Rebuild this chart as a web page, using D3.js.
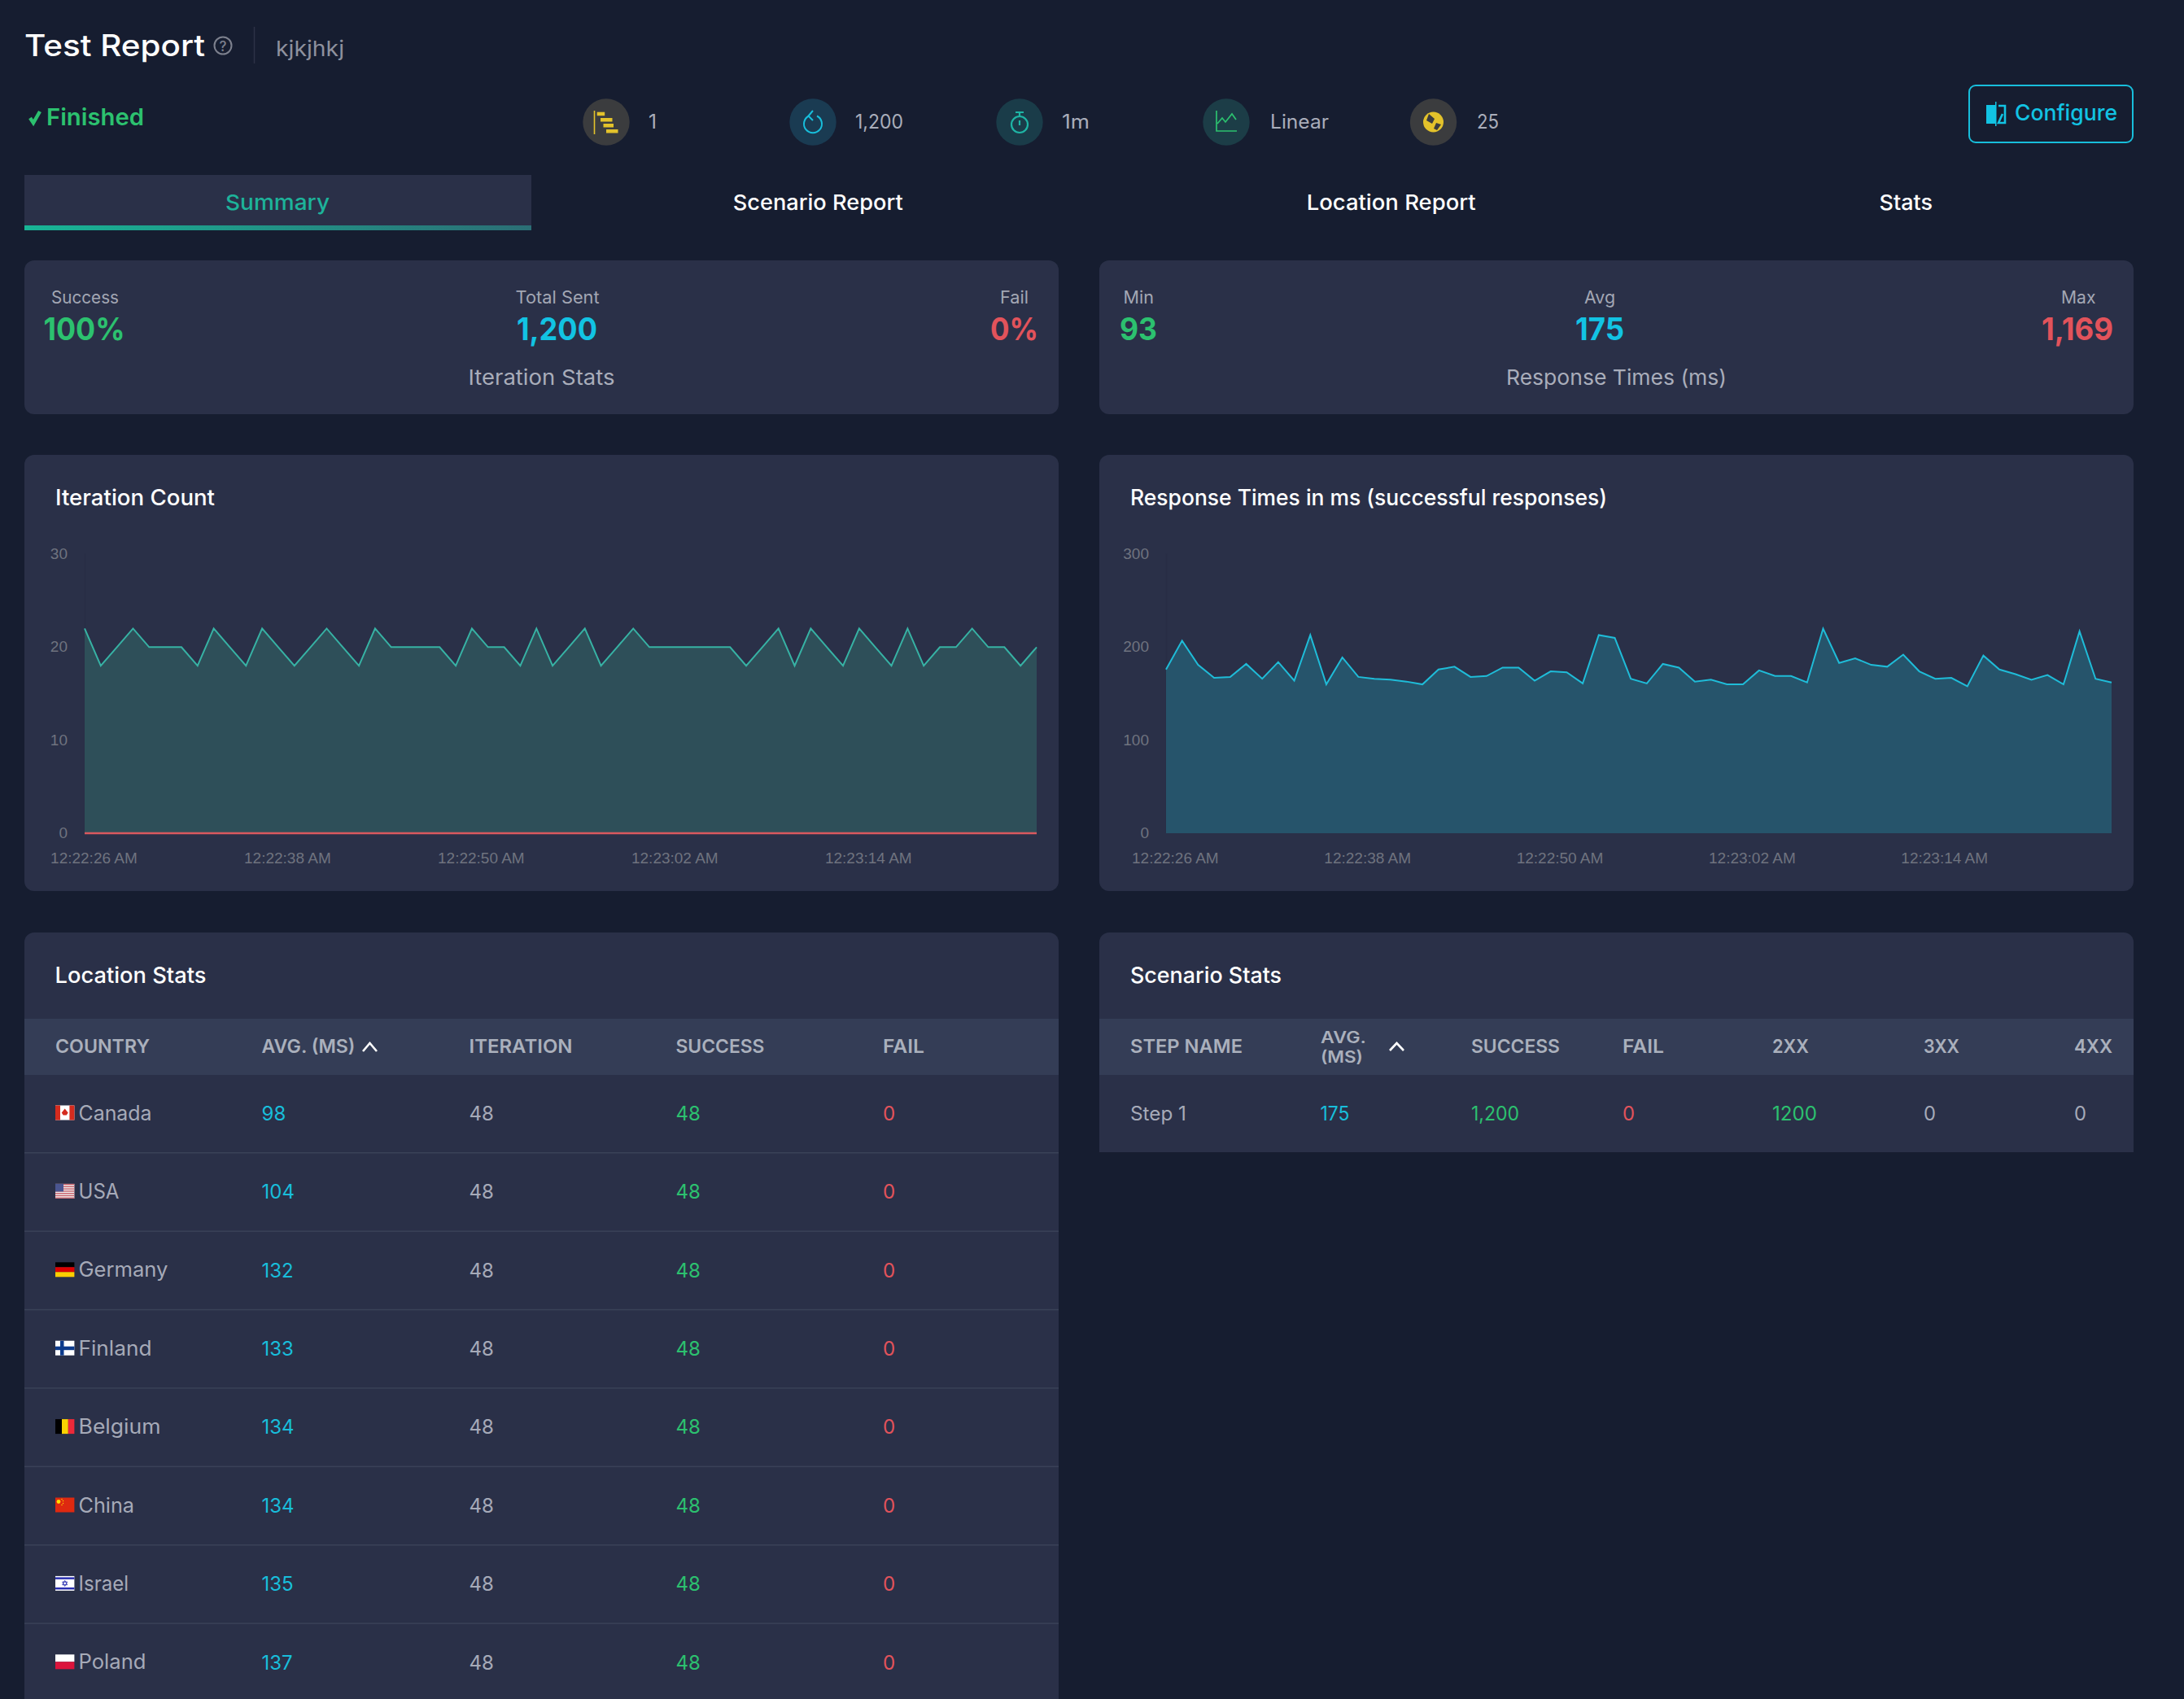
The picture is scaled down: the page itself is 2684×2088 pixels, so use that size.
<!DOCTYPE html>
<html><head><meta charset="utf-8">
<script src="https://cdn.jsdelivr.net/npm/d3@7/dist/d3.min.js"></script>
<style>html,body{margin:0;padding:0;background:#161d30;overflow:hidden}svg{display:block}</style>
</head><body><svg id="page" width="2684" height="2088"></svg>
<script>
const iterationCount=[22,18,20,22,20,20,20,18,22,20,18,22,20,18,20,22,20,18,22,20,20,20,20,18,22,20,20,18,22,18,20,22,18,20,22,20,20,20,20,20,20,18,20,22,18,22,20,18,22,20,18,22,18,20,20,22,20,20,18,20];
const failCount=[0,0,0,0,0,0,0,0,0,0,0,0,0,0,0,0,0,0,0,0,0,0,0,0,0,0,0,0,0,0,0,0,0,0,0,0,0,0,0,0,0,0,0,0,0,0,0,0,0,0,0,0,0,0,0,0,0,0,0,0];
const responseTimes=[176,207,181,167,168,182,166,184,164,213,160,189,168,166,165,163,160,176,179,168,169,178,178,164,174,173,161,213,210,166,161,182,178,163,165,160,160,175,169,169,162,220,183,188,181,179,192,174,166,167,158,191,176,171,165,170,160,217,166,162];
const xTickLabels=["12:22:26 AM","12:22:38 AM","12:22:50 AM","12:23:02 AM","12:23:14 AM"];
const xTickIndex=[0,12,24,36,48];
const countries=["Canada","USA","Germany","Finland","Belgium","China","Israel","Poland"];
const avgMs=[98,104,132,133,134,134,135,137];
const iterations=[48,48,48,48,48,48,48,48];
const successes=[48,48,48,48,48,48,48,48];
const fails=[0,0,0,0,0,0,0,0];
const locationHeaders=["COUNTRY","AVG. (MS)","ITERATION","SUCCESS","FAIL"];
const scenarioHeaders=["STEP NAME","SUCCESS","FAIL","2XX","3XX","4XX"];
const scenarioRow=["Step 1","175","1,200","0","1200","0","0"];
const tabs=["Summary","Scenario Report","Location Report","Stats"];
const infoValues=["1","1,200","1m","Linear","25"];

const C={panel:"#2a3048",head:"#343d56",rule:"#3a4258",white:"#ffffff",grey:"#a6aab8",cyan:"#12c3e3",cyan2:"#18bedb",green:"#2cc16f",red:"#e2535b",teal:"#1db39a",yellow:"#e3c22b"};
const FONT="Inter, 'Noto Sans', sans-serif";
const svg=d3.select("#page");
const defs=svg.append("defs");
const grad=defs.append("linearGradient").attr("id","tabline");
grad.append("stop").attr("offset","0").attr("stop-color","#18b596");
grad.append("stop").attr("offset","1").attr("stop-color","#2b6e75");

function t(x,y,s,o={}){
  const n=svg.append("text").attr("x",x).attr("y",y).text(s)
    .attr("font-family",o.font||FONT).attr("font-size",o.size||25)
    .attr("font-weight",o.weight||400).attr("fill",o.fill||C.grey);
  if(o.w) n.attr("textLength",o.w).attr("lengthAdjust","spacingAndGlyphs");
  return n;
}
function panel(x,y,w,h,r=12){svg.append("rect").attr("x",x).attr("y",y).attr("width",w).attr("height",h).attr("rx",r).attr("fill",C.panel);}
function box(x,y,w,h,f){svg.append("rect").attr("x",x).attr("y",y).attr("width",w).attr("height",h).attr("fill",f);}

/* Header */
t(30,69,"Test Report",{size:37,weight:500,fill:C.white,w:222});
svg.append("circle").attr("cx",274).attr("cy",56).attr("r",10.5).attr("fill","none").attr("stroke","#7d818e").attr("stroke-width",2);
t(269.5,62.5,"?",{size:17,weight:500,fill:"#7d818e"});
svg.append("line").attr("x1",312.5).attr("x2",312.5).attr("y1",33).attr("y2",78).attr("stroke","#2d3246").attr("stroke-width",1.5);
t(339,68.5,"kjkjhkj",{size:26,fill:"#8e919e",w:84});
svg.append("path").attr("d","M37 145 L41 151 L49 137").attr("fill","none").attr("stroke",C.green).attr("stroke-width",4.4);
t(57,154,"Finished",{size:29,weight:600,fill:C.green,w:120});

/* Info strip */
const infoX=[745,999,1253,1507,1761.5], infoTextX=[797,1051,1305,1561,1815], infoTextW=[10,59,34,72,27];
const infoBg=["#3b3c3e","#1a3b52","#1a3c49","#1c3d47","#3b3c3e"];
infoX.forEach((x,i)=>{
  svg.append("circle").attr("cx",x).attr("cy",150).attr("r",28.7).attr("fill",infoBg[i]);
  t(infoTextX[i],158,infoValues[i],{size:24,w:infoTextW[i],fill:"#a9adba"});
});
[[733.7,137.7,9.5,4.5],[738,145,14.5,4.5],[741.5,152,12.5,4.5],[745,159,14.5,4.5]].forEach(r=>box(r[0],r[1],r[2],r[3],C.yellow));
svg.append("line").attr("x1",730.5).attr("x2",730.5).attr("y1",136).attr("y2",165).attr("stroke",C.yellow).attr("stroke-width",1.6);
svg.append("path").attr("d","M1004 142.5 A11 11 0 1 1 994 142.5").attr("fill","none").attr("stroke",C.cyan2).attr("stroke-width",2);
svg.append("path").attr("d","M999 136 L993.5 142.5 L999 148").attr("fill","none").attr("stroke",C.cyan2).attr("stroke-width",2);
svg.append("circle").attr("cx",1253).attr("cy",153).attr("r",10).attr("fill","none").attr("stroke","#1fb5a5").attr("stroke-width",2.2);
svg.append("path").attr("d","M1248 138 H1258 M1253 138 V143 M1253 148 V154").attr("fill","none").attr("stroke","#1fb5a5").attr("stroke-width",2.2);
svg.append("path").attr("d","M1495 136 V161 H1520 M1496 152 L1502 145 L1506 150 L1514 140 L1519 147").attr("fill","none").attr("stroke",C.green).attr("stroke-width",1.7);
svg.append("circle").attr("cx",1761.5).attr("cy",150).attr("r",12.5).attr("fill",C.yellow);
svg.append("path").attr("d","M1756 140 L1763 146 L1760 152 L1753 148 Z M1765 151 L1771 153 L1766 160 L1762 158 Z").attr("fill","#3b3c3e");

/* Configure */
svg.append("rect").attr("x",2420).attr("y",105).attr("width",201).attr("height",70).attr("rx",8).attr("fill","none").attr("stroke",C.cyan2).attr("stroke-width",2);
svg.append("path").attr("d","M2441 129 L2452 129 V125 H2453.5 V155 H2452 V152 H2441 Z").attr("fill",C.cyan);
svg.append("path").attr("d","M2456 130 H2464 V151 H2456 L2461 140").attr("fill","none").attr("stroke",C.cyan).attr("stroke-width",2.6);
t(2476,147.7,"Configure",{size:27,weight:500,fill:C.cyan,w:126});

/* Tabs */
box(30,215,623,62,C.panel); box(30,277,623,6,"url(#tabline)");
const tabX=[277,900.7,1605.7,2309.5], tabW=[128,209,208,65.5];
tabs.forEach((s,i)=>t(tabX[i],258,s,{size:26,weight:500,fill:i?C.white:C.teal,w:tabW[i]}));

/* Stat cards */
panel(30,320,1271,189); panel(1351,320,1271,189);
const statBlocks=[
 {label:"Success",lx:63,lw:83,val:"100%",vx:53.5,vw:100,col:C.green},
 {label:"Total Sent",lx:633.6,lw:103,val:"1,200",vx:635,vw:99,col:C.cyan},
 {label:"Fail",lx:1229,lw:35,val:"0%",vx:1217,vw:59,col:C.red},
 {label:"Min",lx:1380.6,lw:37.4,val:"93",vx:1376,vw:46,col:C.green},
 {label:"Avg",lx:1947,lw:38,val:"175",vx:1936,vw:60,col:C.cyan},
 {label:"Max",lx:2533,lw:42.5,val:"1,169",vx:2509,vw:88,col:C.red}];
statBlocks.forEach(b=>{
  t(b.lx,372.7,b.label,{size:21,fill:"#a3a7b4",w:b.lw});
  t(b.vx,418,b.val,{size:38,weight:700,fill:b.col,w:b.vw});
});
t(575.5,473,"Iteration Stats",{size:26,fill:"#a9adba",w:180});
t(1851,473,"Response Times (ms)",{size:26,fill:"#a9adba",w:271});

/* Charts */
function chart(o){
  panel(o.px,559,1271,536);
  t(o.tx,621,o.title,{size:27,weight:500,fill:C.white,w:o.tw});
  const x=d3.scaleLinear().domain([0,59]).range([o.x0,o.x1]);
  const y=d3.scaleLinear().domain([0,o.max]).range([1024,681]);
  const half=(o.x1-o.x0)/59/2;
  const yAxis=d3.axisLeft(y).tickValues(d3.range(0,o.max+1,o.max/3)).tickSize(0).tickPadding(21);
  const gy=svg.append("g").attr("transform",`translate(${o.x0},-0.7)`).call(yAxis);
  gy.select(".domain").attr("stroke","#282d45").attr("stroke-width",1.5);
  const xAxis=d3.axisBottom(x).tickValues(xTickIndex).tickFormat((d,i)=>xTickLabels[i]).tickSize(0).tickPadding(23.7);
  const gx=svg.append("g").attr("transform",`translate(${half+1},1024)`).call(xAxis);
  gx.select(".domain").remove();
  [gx,gy].forEach(g=>g.selectAll("text").attr("font-family","'Liberation Sans', Arial, sans-serif").attr("font-size",19).attr("fill","#6f737f"));
  const area=d3.area().x((d,i)=>x(i)).y0(y(0)).y1(d=>y(d));
  const line=d3.line().x((d,i)=>x(i)).y(d=>y(d));
  svg.append("path").datum(o.data).attr("d",area).attr("fill",o.fill);
  svg.append("path").datum(o.data).attr("d",line).attr("fill","none").attr("stroke",o.stroke).attr("stroke-width",2).attr("stroke-linejoin","miter");
  if(o.zero) svg.append("path").datum(o.zero).attr("d",line).attr("fill","none").attr("stroke","#d9595f").attr("stroke-width",2.5);
}
chart({px:30,tx:68,tw:196,title:"Iteration Count",x0:104,x1:1274,max:30,data:iterationCount,zero:failCount,fill:"#2e4f59",stroke:"#37b2a4"});
chart({px:1351,tx:1389,tw:586,title:"Response Times in ms (successful responses)",x0:1433,x1:2595,max:300,data:responseTimes,fill:"#26546b",stroke:"#1fbcd8"});

/* Flags */
function flag(name,x,y){
  const W=23.4,H=18,g=svg.append("g").attr("transform",`translate(${x},${y})`);
  const r=(a,b,w,h,f)=>g.append("rect").attr("x",a).attr("y",b).attr("width",w).attr("height",h).attr("fill",f);
  if(name==="Canada"){r(0,0,W,H,"#fff");r(0,0,6,H,"#d52b1e");r(W-6,0,6,H,"#d52b1e");g.append("path").attr("d",`M${W/2} 4 L${W/2+4} 9 L${W/2+2} 12 H${W/2-2} L${W/2-4} 9 Z`).attr("fill","#d52b1e");}
  if(name==="USA"){r(0,0,W,H,"#eee");d3.range(0,7).forEach(i=>r(0,i*2.77,W,1.38,"#c9606b"));r(0,0,10,9.5,"#4a5590");}
  if(name==="Germany"){r(0,0,W,6,"#000");r(0,6,W,6,"#d00");r(0,12,W,6,"#ffce00");}
  if(name==="Finland"){r(0,0,W,H,"#fff");r(0,7,W,4.5,"#0d3b8c");r(6,0,4.5,H,"#0d3b8c");}
  if(name==="Belgium"){r(0,0,8,H,"#000");r(8,0,7.8,H,"#fad201");r(15.8,0,7.6,H,"#ed2939");}
  if(name==="China"){r(0,0,W,H,"#de2910");g.append("circle").attr("cx",4).attr("cy",5).attr("r",2.4).attr("fill","#ffde00");[[8,2],[9.5,4],[9.5,7],[8,9]].forEach(p=>g.append("circle").attr("cx",p[0]).attr("cy",p[1]).attr("r",.7).attr("fill","#ffde00"));}
  if(name==="Israel"){r(0,0,W,H,"#fff");r(0,1.5,W,2.5,"#2a2fb0");r(0,14,W,2.5,"#2a2fb0");g.append("path").attr("d",`M${W/2} 5.5 L${W/2+3} 10.8 H${W/2-3} Z M${W/2} 12.5 L${W/2+3} 7.2 H${W/2-3} Z`).attr("fill","none").attr("stroke","#2a2fb0").attr("stroke-width",.9);}
  if(name==="Poland"){r(0,0,W,9,"#fff");r(0,9,W,9,"#dc143c");}
}
function caret(x0,x1,y0,y1){svg.append("path").attr("d",`M${x0} ${y1} L${(x0+x1)/2} ${y0} L${x1} ${y1}`).attr("fill","none").attr("stroke","#fff").attr("stroke-width",2.6);}

/* Location stats */
panel(30,1146,1271,1000);
t(67.5,1208,"Location Stats",{size:27,weight:500,fill:C.white,w:186});
box(30,1252,1271,69,C.head);
const locColX=[68,321.5,576.5,830.5,1085], locHeadW=[116,115,127,109,51];
locationHeaders.forEach((s,i)=>t(locColX[i],1294,s,{size:23,weight:600,fill:"#aab0bc",w:locHeadW[i]}));
caret(446,463,1282,1292);
const rowY=d3.scaleLinear().domain([0,1]).range([1376,1472.4]);
const nameW=[90,50,110,90,101,68.5,61.5,83];
countries.forEach((c,i)=>{
  const b=rowY(i);
  flag(c,68,b-17.5);
  t(96.5,b+.5,c,{size:25,fill:"#a6aab8",w:nameW[i]});
  t(locColX[1],b+.7,avgMs[i],{size:24,fill:C.cyan2});
  t(locColX[2],b+.7,iterations[i],{size:24,fill:"#a6aab8"});
  t(locColX[3],b+.7,successes[i],{size:24,fill:C.green});
  t(locColX[4],b+.7,fails[i],{size:24,fill:C.red});
  box(30,b+40,1271,1.5,C.rule);
});

/* Scenario stats */
svg.append("path").attr("d","M1351 1416 V1158 a12 12 0 0 1 12 -12 H2610 a12 12 0 0 1 12 12 V1416 Z").attr("fill",C.panel);
t(1389,1208,"Scenario Stats",{size:27,weight:500,fill:C.white,w:186});
box(1351,1252,1271,69,C.head);
const scenX=[1389,1808,1994,2178,2364,2549], scenW=[138,109,51,45,44,47];
scenarioHeaders.forEach((s,i)=>t(scenX[i],1294,s,{size:23,weight:600,fill:"#aab0bc",w:scenW[i]}));
t(1623,1281.5,"AVG.",{size:20,weight:600,fill:"#aab0bc",w:56});
t(1623,1306,"(MS)",{size:20,weight:600,fill:"#aab0bc",w:52});
caret(1708,1725,1282,1291);
const rowCols=[1389,1622.5,1808,1994,2178,2364,2549], rowW=[69,36,59,15,55,15,15], rowFill=["#a6aab8",C.cyan2,C.green,C.red,C.green,"#a6aab8","#a6aab8"];
scenarioRow.forEach((s,i)=>t(rowCols[i],1377,s,{size:24,fill:rowFill[i],w:rowW[i]}));
</script></body></html>
